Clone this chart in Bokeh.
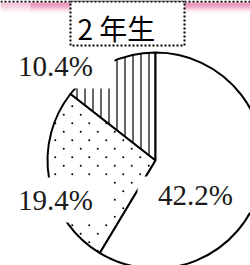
import math
import base64
from bokeh.plotting import figure
from bokeh.models import ColumnDataSource, Range1d, ImageURLTexture
from bokeh.core.properties import value
from bokeh.embed import file_html
from bokeh.resources import INLINE

# ---- data ----
title_text = "2 年生"
values = [10.4, 19.4, 42.2]
labels = [f"{v}%" for v in values]
patterns = ["|", "stagger", " "]

# ---- layout (window pixel coordinates, y downward) ----
W, H = 250, 265
def Y(ry):
    return H - ry

pie_cx, pie_cy, pie_r = 155, 160, 108
label_centers = [(55, 65), (55, 199.5), (195, 194)]
label_half_w = [59, 58, 58]
label_half_h = [23, 22.5, 18]
hatch_scales = [8, 12, 8]

p = figure(width=W, height=H, output_backend="svg", toolbar_location=None,
           x_range=Range1d(0, W), y_range=Range1d(0, H), min_border=0)
p.axis.visible = False
p.grid.visible = False
p.outline_line_color = None
p.background_fill_color = "white"
p.border_fill_color = "white"

# pink decorative band at top
band_rows = list(range(2, 13))
band_alpha = [0.65, 0.72, 0.68, 0.6, 0.5, 0.4, 0.3, 0.2, 0.13, 0.07, 0.03]
n = len(band_rows)
p.quad(left=[30] * n, right=[W] * n,
       top=[Y(r) for r in band_rows], bottom=[Y(r + 1) for r in band_rows],
       fill_color="#e0508f", fill_alpha=band_alpha, line_color=None)
p.quad(left=[0] * n, right=[30] * n,
       top=[Y(r) for r in band_rows], bottom=[Y(r + 1) for r in band_rows],
       fill_color="#e0508f", fill_alpha=[a * 0.5 for a in band_alpha], line_color=None)
p.segment(x0=[0], y0=[Y(1)], x1=[W], y1=[Y(1)], line_color="black",
          line_width=2, line_dash="2 2")

# pie angles (start at 12 o'clock, counter-clockwise)
total = sum(values)
starts, ends = [], []
a = math.pi / 2
for v in values:
    starts.append(a)
    a += v / total * 2 * math.pi
    ends.append(a)

tile_svg = ('<svg xmlns="http://www.w3.org/2000/svg" width="17" height="17">'
            '<circle cx="4.25" cy="4.25" r="1.0" fill="black"/>'
            '<circle cx="12.75" cy="12.75" r="1.0" fill="black"/></svg>')
dots = ImageURLTexture(url="data:image/svg+xml;base64," +
                       base64.b64encode(tile_svg.encode()).decode())

for i in range(len(values)):
    src = ColumnDataSource(dict(start=[starts[i]], end=[ends[i]]))
    p.wedge(x=pie_cx, y=Y(pie_cy), radius=pie_r, start_angle="start",
            end_angle="end", source=src, fill_color="white", line_color="black",
            line_width=2, hatch_pattern=value(patterns[i]),
            hatch_scale=hatch_scales[i], hatch_color="black", hatch_weight=1.2,
            hatch_extra={"stagger": dots})

# label backgrounds
lsrc = ColumnDataSource(dict(
    x=[c[0] for c in label_centers], y=[Y(c[1]) for c in label_centers],
    left=[c[0] - w for c, w in zip(label_centers, label_half_w)],
    right=[c[0] + w for c, w in zip(label_centers, label_half_w)],
    top=[Y(c[1] - h) for c, h in zip(label_centers, label_half_h)],
    bottom=[Y(c[1] + h) for c, h in zip(label_centers, label_half_h)],
    text=labels))
p.quad(left="left", right="right", top="top", bottom="bottom", source=lsrc,
       fill_color="white", line_color=None)
p.text(x="x", y="y", text="text", source=lsrc, text_align="center",
       text_baseline="middle", text_font=value("Liberation Serif"),
       text_font_size="29px", text_color="#1a1a1a")

# title box
p.quad(left=[70], right=[184], top=[Y(1)], bottom=[Y(45)], fill_color="white",
       line_color="black", line_width=2, line_dash="2 2")
p.text(x=[77], y=[Y(27)], text=[title_text], text_align="left",
       text_baseline="middle", text_font=value("Noto Sans CJK JP"),
       text_font_size="28px", text_color="black")

open("out.html", "w").write(file_html(p, INLINE))
